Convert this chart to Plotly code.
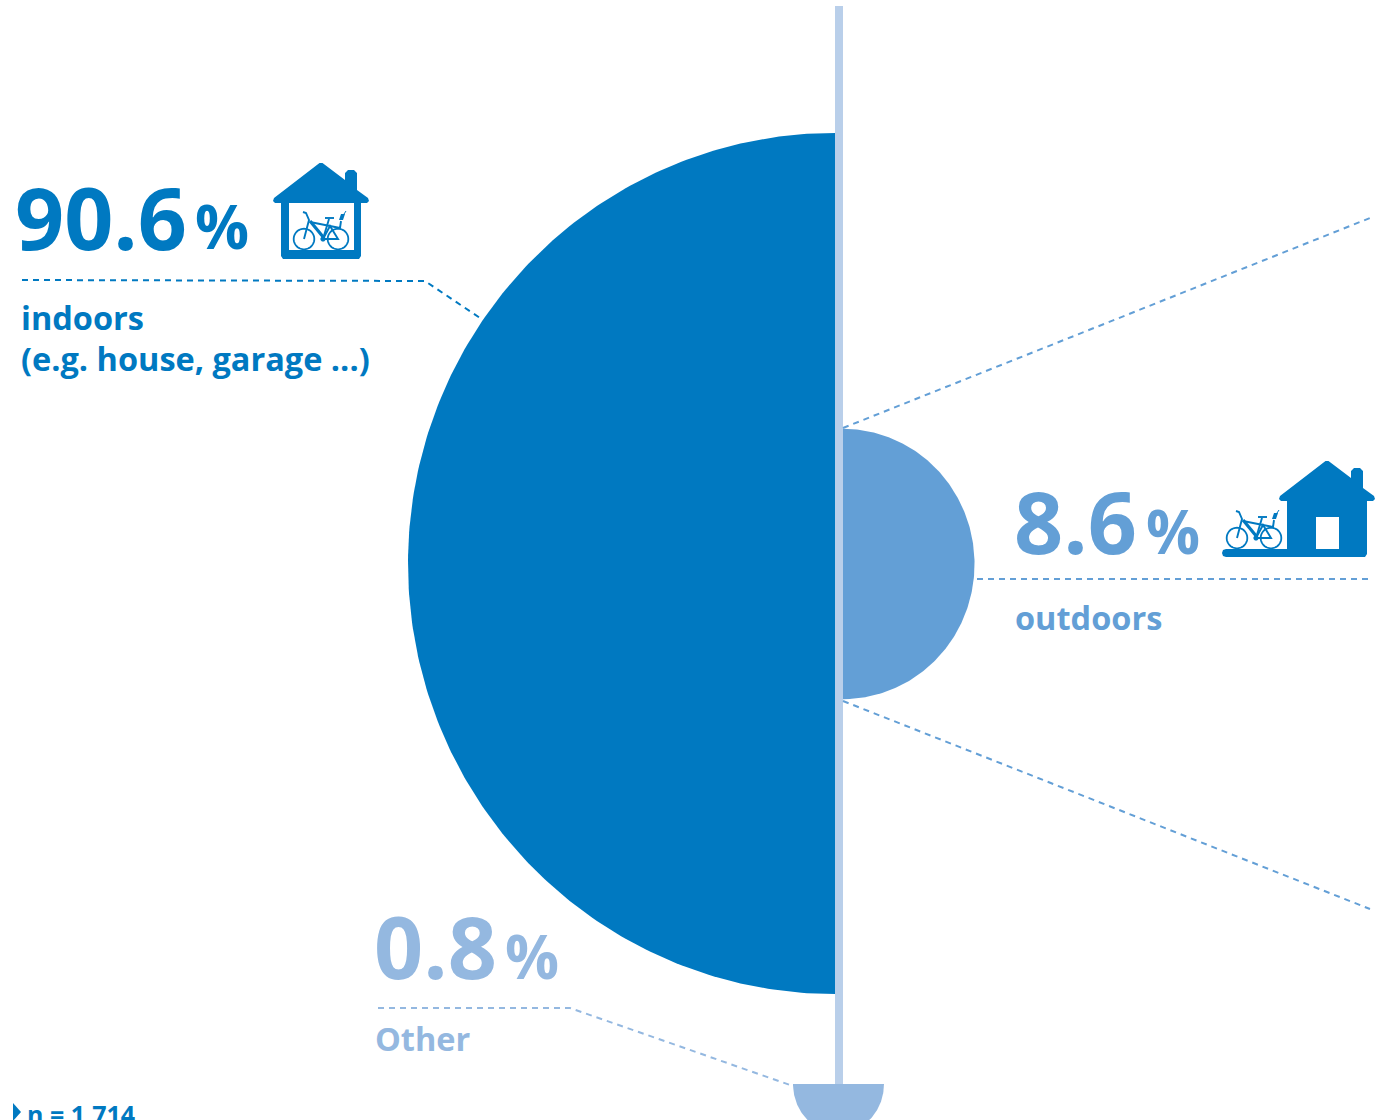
import numpy as np
import plotly.graph_objects as go

# Shares of e-bike storage locations, in percent
categories = ["indoors", "outdoors", "Other"]
shares = [90.6, 8.6, 0.8]
value_labels = ["90.6", "8.6", "0.8"]
sample_label = "n = 1,714"

DARK = "#0079c1"
MID = "#639fd6"
LIGHT = "#94b8e0"
AXIS = "#b9cfea"
FONT = "Open Sans"

W, H = 1375, 1120


def radius(v):
    # Semicircle area follows the share, with a minimum size for tiny shares
    return max(44.86 * np.sqrt(v), 45.5)


def half_disc(cx, cy, r, start, stop):
    t = np.radians(np.linspace(start, stop, 240))
    return cx + r * np.cos(t), cy + (r + 3.6) * np.sin(t)


fig = go.Figure()


def add_disc(value, cx, cy, start, stop, color, name):
    x, y = half_disc(cx, cy, radius(value), start, stop)
    fig.add_trace(go.Scatter(x=x, y=y, mode="lines", fill="toself", fillcolor=color,
                             line=dict(width=0, color=color), name=name,
                             hoverinfo="name"))


def polyline(xs, ys, color, width=2, dash="6px,5px"):
    fig.add_trace(go.Scatter(x=xs, y=ys, mode="lines",
                             line=dict(color=color, width=width, dash=dash),
                             hoverinfo="skip"))


# Central axis
polyline([839, 839], [6, 1086], AXIS, width=8, dash="solid")

# Half discs: indoors to the left of the axis, outdoors to the right, other at the foot
add_disc(shares[0], 835, 563.5, 90, 270, DARK, categories[0])
add_disc(shares[1], 843, 564, -90, 90, MID, categories[1])
add_disc(shares[2], 838.5, 1084, 0, 180, LIGHT, categories[2])

# Leader lines
polyline([22, 425, 483], [280, 281, 320], DARK)
polyline([843, 1370], [428, 218], MID)
polyline([843, 1370], [701, 909], MID)
polyline([977, 1370], [579, 579], MID)
polyline([378, 570, 793], [1008, 1008, 1086], LIGHT)


def label(x, y, text, size, color):
    fig.add_annotation(x=x, y=y, text=text, showarrow=False, xanchor="left", yanchor="middle",
                       align="left",
                       font=dict(family=FONT, size=size, color=color, weight="bold"))


NUM, PCT, TXT = 86, 60, 32.5

label(13, 216, value_labels[0], NUM, DARK)
label(193, 226, "%", PCT, DARK)
label(19, 317, "indoors", TXT, DARK)
label(19, 358, "(e.g. house, garage ...)", TXT, DARK)

label(1012, 520, value_labels[1], NUM, MID)
label(1144, 531, "%", PCT, MID)
label(1013, 617, "outdoors", TXT, MID)

label(372, 945, value_labels[2], NUM, LIGHT)
label(503, 956, "%", PCT, LIGHT)
label(373, 1038, "Other", TXT, LIGHT)

fig.add_annotation(x=25, y=1095, text=sample_label, showarrow=False, xanchor="left", yanchor="top",
                   align="left", font=dict(family=FONT, size=25, color=DARK, weight="bold"))

shapes = []


def path(d, fill=None, line=None, width=0):
    s = dict(type="path", path=d, xref="x", yref="y", layer="above",
             line=dict(width=width, color=line or "rgba(0,0,0,0)"))
    if fill:
        s["fillcolor"] = fill
    shapes.append(s)


def poly(pts, ox, oy, close=False):
    d = "M" + " L".join(f"{ox + a:.2f},{oy + b:.2f}" for a, b in pts)
    return d + " Z" if close else d


def ring(cx, cy, r):
    t = np.linspace(0, 2 * np.pi, 48, endpoint=False)
    return poly(list(zip(r * np.cos(t), r * np.sin(t))), cx, cy, close=True)


HOUSE = [(-1.5, 0), (1.5, 0), (24, 17), (24, 10), (27, 7), (33, 7), (36, 10), (36, 27), (47, 35), (48, 38), (46, 40),
         (40, 40), (40, 93), (38, 96), (-38, 96), (-40, 93), (-40, 40), (-46, 40), (-48, 38), (-47, 35)]


def rect(x0, y0, x1, y1, fill):
    path(f"M{x0},{y0} L{x1},{y0} L{x1},{y1} L{x0},{y1} Z", fill=fill)


def bike(ox, oy, color):
    # Bicycle glyph, origin at the centre of the left wheel
    path(ring(ox, oy, 10.3), line=color, width=1.8)
    path(ring(ox + 34, oy, 10.3), line=color, width=1.8)
    frame = [
        [(0, 0), (5, -19), (2, -26), (-1, -27)],
        [(19, 0), (34, 0), (26, -13), (19, 0)],
        [(19, 0), (25, -20)],
        [(21, -21), (30, -21)],
        [(6, -17), (26, -13)],
        [(26, -13), (36, -11), (37, -18)],
    ]
    for seg in frame:
        path(poly(seg, ox, oy), line=color, width=1.9)
    # Battery on the down tube
    path(poly([(6, -18), (20, -1)], ox, oy), line=color, width=3.2)
    # Bottom bracket and charging plug
    path(ring(ox + 19, oy, 2.6), fill=color)
    path(poly([(35, -19), (39, -19), (41, -25), (37, -25)], ox, oy, close=True), fill=color)
    path(poly([(40, -25), (42, -28)], ox, oy), line=color, width=1)


# Indoor icon: house with the bike inside
path(poly(HOUSE, 321, 163, close=True), fill=DARK)
rect(289, 203, 354, 250, "#ffffff")
bike(304, 239, DARK)

# Outdoor icon: bike on the ground next to the house
path(poly(HOUSE, 1327, 461, close=True), fill=DARK)
rect(1316, 517, 1339, 549, "#ffffff")
path(poly([(0, 0), (70, 0), (70, 8), (0, 8), (-3, 7), (-4, 4), (-3, 1)], 1226, 549, close=True), fill=DARK)
bike(1237, 538, DARK)

# Bullet in front of the sample size
path("M13,1103 L21,1112 L13,1121 Z", fill=DARK)

fig.update_layout(
    width=W, height=H, margin=dict(l=0, r=0, t=0, b=0),
    paper_bgcolor="#ffffff", plot_bgcolor="#ffffff", showlegend=False,
    xaxis=dict(range=[0, W], visible=False, fixedrange=True),
    yaxis=dict(range=[H, 0], visible=False, fixedrange=True),
    shapes=shapes,
)

fig.write_html("out.html", config=dict(displayModeBar=False))
